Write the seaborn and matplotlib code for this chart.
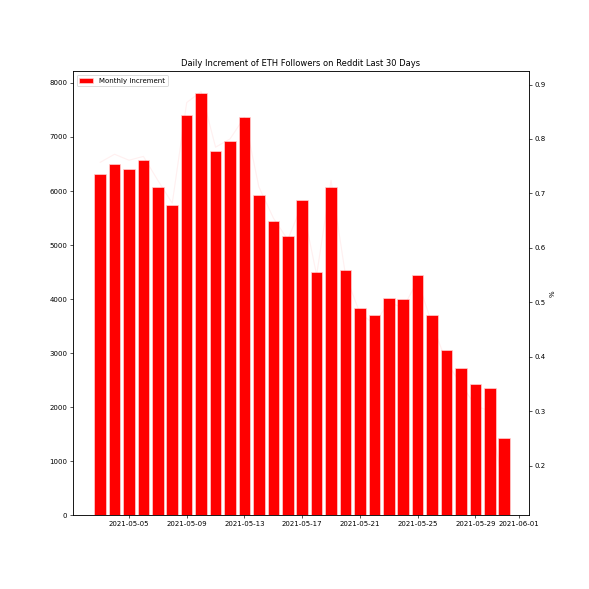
"""Daily increment of ETH followers on Reddit, last 30 days."""

import matplotlib

matplotlib.use("Agg")
import matplotlib.dates as mdates
import matplotlib.pyplot as plt
import pandas as pd
import seaborn as sns

dates = pd.date_range("2021-05-03", "2021-05-31", freq="D")
increments = [
    6310, 6495, 6405, 6575, 6080, 5750, 7415, 7815, 6745, 6930,
    7375, 5925, 5450, 5165, 5830, 4495, 6070, 4535, 3845, 3705,
    4020, 3995, 4440, 3715, 3055, 2725, 2425, 2360, 1425,
]
pct = [
    0.757, 0.772, 0.761, 0.768, 0.724, 0.682, 0.867, 0.887, 0.785, 0.800,
    0.840, 0.712, 0.655, 0.615, 0.680, 0.550, 0.724, 0.550, 0.480, 0.460,
    0.500, 0.490, 0.540, 0.460, 0.390, 0.350, 0.310, 0.300, 0.146,
]
tick_dates = pd.to_datetime([
    "2021-05-05", "2021-05-09", "2021-05-13", "2021-05-17",
    "2021-05-21", "2021-05-25", "2021-05-29", "2021-06-01",
])

df = pd.DataFrame({"date": dates, "increment": increments, "pct": pct})

sns.set_style("white")
plt.rcParams["font.family"] = ["DejaVu Sans"]
plt.rcParams["font.size"] = 8.5
plt.rcParams["axes.titlesize"] = 10.2
for key in ("text.color", "axes.labelcolor", "xtick.color", "ytick.color"):
    plt.rcParams[key] = "black"

fig = plt.figure(figsize=(10, 10), dpi=58.9)
ax = fig.add_axes([0.124, 0.125, 0.774, 0.754])

x_num = mdates.date2num(df["date"])
ax.bar(x_num, df["increment"], width=0.8, color="red",
       edgecolor="#ffd6d6", linewidth=0.8, label="Monthly Increment")
ax.set_ylim(0, 8216)
ax.xaxis_date()
ax.set_xticks(mdates.date2num(tick_dates))
ax.xaxis.set_major_formatter(mdates.DateFormatter("%Y-%m-%d"))
xlim = (mdates.date2num(pd.Timestamp("2021-05-01 03:00")),
        mdates.date2num(pd.Timestamp("2021-06-01 17:00")))
ax.set_xlim(xlim)
ax.legend(loc="upper left")
ax.set_title("Daily Increment of ETH Followers on Reddit Last 30 Days")
ax.tick_params(axis="both", which="major", length=3.5, width=0.8,
               direction="out", bottom=True, left=True)

ax2 = ax.twinx()
sns.lineplot(x=x_num, y=df["pct"].to_numpy(), ax=ax2, color="red",
             alpha=0.06, linewidth=1.5, legend=False)
ax2.set_ylim(0.1086, 0.9244)
ax2.set_ylabel("%")
ax2.tick_params(axis="y", right=True, length=3.5, width=0.8, direction="out")
ax2.set_xlim(xlim)

for a in (ax, ax2):
    for sp in a.spines.values():
        sp.set_color("black")
        sp.set_linewidth(0.8)

fig.savefig("out.png", dpi=58.9)
